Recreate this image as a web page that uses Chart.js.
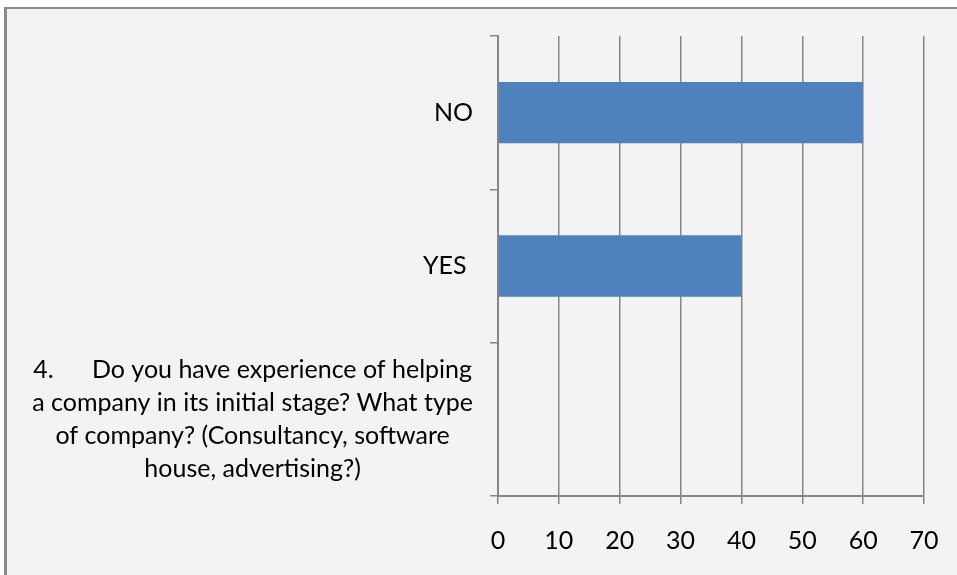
<!DOCTYPE html>
<html>
<head>
<meta charset="utf-8">
<script src="https://cdn.jsdelivr.net/npm/chart.js@4.4.0/dist/chart.umd.min.js"></script>
<style>
    html, body { margin: 0; padding: 0; background: #fff; }
    canvas { display: block; }
</style>
</head>
<body>
<canvas id="surveyChart" width="957" height="575"></canvas>
<script>
// Survey answers, top to bottom
const categories = [
    ['NO'],
    ['YES '],
    ['4.      Do you have experience of helping',
     'a company in its initial stage? What type',
     'of company? (Consultancy, software',
     'house, advertising?)']
];
const answerValues = [60, 40, null];
const axisTicks = [0, 10, 20, 30, 40, 50, 60, 70];

const AXIS_GRAY = '#868686';
const FONT = '25px Lato';

// Gray frame and panel background
const framePlugin = {
    id: 'frame',
    beforeDraw(chart) {
        const ctx = chart.ctx;
        ctx.save();
        ctx.fillStyle = '#ffffff';
        ctx.fillRect(0, 0, chart.width, chart.height);
        ctx.fillStyle = '#f3f3f3';
        ctx.fillRect(6, 9, chart.width - 6, chart.height - 9);
        ctx.fillStyle = '#8a8a8a';
        ctx.fillRect(4, 7, chart.width - 4, 2);
        ctx.fillRect(4, 7, 3, chart.height - 7);
        ctx.restore();
    }
};

// Category labels: each block right-aligned to the axis, lines centred inside it
const categoryLabelPlugin = {
    id: 'categoryLabels',
    afterDraw(chart) {
        const ctx = chart.ctx;
        const yScale = chart.scales.y;
        const rightEdge = chart.chartArea.left - 25;
        const lineHeight = 33;
        ctx.save();
        ctx.font = FONT;
        ctx.fillStyle = '#000';
        ctx.textAlign = 'center';
        ctx.textBaseline = 'middle';
        categories.forEach((lines, i) => {
            const blockWidth = Math.max(...lines.map(l => ctx.measureText(l).width));
            const cx = rightEdge - blockWidth / 2;
            const cy = yScale.getPixelForValue(i);
            const top = cy - (lines.length - 1) * lineHeight / 2;
            lines.forEach((line, j) => {
                ctx.fillText(line, cx, top + j * lineHeight);
            });
        });
        ctx.restore();
    }
};

new Chart(document.getElementById('surveyChart'), {
    type: 'bar',
    data: {
        labels: categories,
        datasets: [{
            data: answerValues,
            backgroundColor: '#4f81bd',
            borderWidth: 0,
            barPercentage: 0.4,
            categoryPercentage: 1
        }]
    },
    options: {
        indexAxis: 'y',
        responsive: false,
        animation: false,
        layout: { padding: { top: 36, right: 33, left: 0, bottom: 0 } },
        plugins: {
            legend: { display: false },
            tooltip: { enabled: false }
        },
        scales: {
            x: {
                min: 0,
                max: 70,
                afterFit(scale) {
                    scale.height = 79;
                    // the "70" label fits inside the right padding
                    scale.paddingLeft = 0;
                    scale.paddingRight = 0;
                },
                afterBuildTicks(scale) { scale.ticks = axisTicks.map(v => ({ value: v })); },
                grid: {
                    color: AXIS_GRAY,
                    lineWidth: 1.5,
                    tickLength: 8
                },
                border: { display: true, color: AXIS_GRAY, width: 2 },
                ticks: {
                    font: { family: 'Lato', size: 25 },
                    color: '#000',
                    padding: 22
                }
            },
            y: {
                afterFit(scale) { scale.width = 498; },
                grid: {
                    offset: true,
                    drawOnChartArea: false,
                    color: AXIS_GRAY,
                    lineWidth: 1.5,
                    tickLength: 8
                },
                border: { display: true, color: AXIS_GRAY, width: 2 },
                ticks: { display: false }
            }
        }
    },
    plugins: [framePlugin, categoryLabelPlugin]
});
</script>
</body>
</html>
